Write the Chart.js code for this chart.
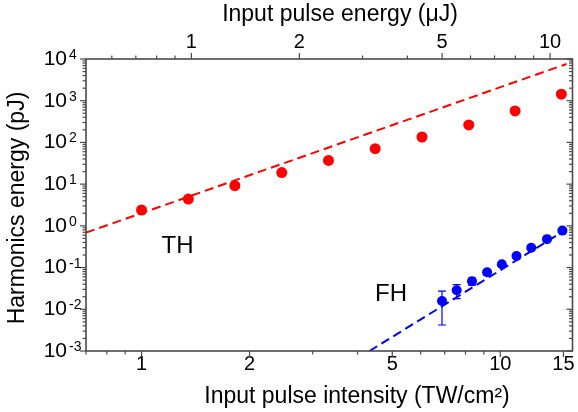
<!DOCTYPE html>
<html>
<head>
<meta charset="utf-8">
<script src="https://cdn.jsdelivr.net/npm/chart.js@4"></script>
<style>
  html, body { margin: 0; padding: 0; background: #fff; }
</style>
</head>
<body>
<canvas id="chart" width="578" height="412"></canvas>
<script>
// Values
const thIntensity = [1.00, 1.35, 1.82, 2.46, 3.32, 4.48, 6.05, 8.17, 11.0, 14.8];
const thEnergy = [2.4, 4.4, 9.2, 19, 37, 71, 135, 262, 570, 1430];
const thError = [0.5, 0, 0, 0, 0, 0, 0, 0, 0, 0];

const fhIntensity = [6.88, 7.56, 8.34, 9.19, 10.1, 11.1, 12.2, 13.5, 14.9];
const fhEnergy = [0.0158, 0.0286, 0.047, 0.077, 0.12, 0.19, 0.30, 0.48, 0.77];
const fhError = [0.0116, 0.0105, 0.009, 0.01, 0.01, 0.01, 0.01, 0.01, 0.01];

// dashed guide lines (end points)
const thFitIntensity = [0.70, 15.3];
const thFitEnergy = [0.687, 7600];
const fhFitIntensity = [4.32, 14.7];
const fhFitEnergy = [0.001, 0.665];

// axes
const intensityTicks = [1, 2, 5, 10, 15];
const intensityMinor = [0.7, 0.8, 0.9, 3, 4, 6, 7, 8, 9];
const energyTicks = [1, 2, 5, 10];
const energyMinor = [0.6, 0.7, 0.8, 0.9, 3, 4, 6, 7, 8, 9];
const decadeExponents = [-3, -2, -1, 0, 1, 2, 3, 4];
const intensityRange = [0.7, 15.9];
const intensityPerEnergy = 1.377;  // TW/cm2 per uJ

const notes = [
  { text: 'TH', x: 1.26, y: 0.33 },
  { text: 'FH', x: 4.96, y: 0.0233 }
];

const RED = '#ff0000';
const BLUE = '#0000ff';
const AXIS = '#4a4a4a';
const FONT = "'Liberation Sans', Arial, sans-serif";

Chart.defaults.font.family = FONT;
Chart.defaults.color = '#000';

const pairs = (xs, ys) => xs.map((x, i) => ({ x, y: ys[i] }));

// error bars under the markers
const errorBars = {
  id: 'errorBars',
  beforeDatasetsDraw(chart) {
    const { ctx, chartArea: a, scales: { x, y } } = chart;
    const sets = [
      [thIntensity, thEnergy, thError, RED, 3.5],
      [fhIntensity, fhEnergy, fhError, BLUE, 4]
    ];
    ctx.save();
    ctx.beginPath();
    ctx.rect(a.left, a.top, a.width, a.height);
    ctx.clip();
    ctx.lineWidth = 1.2;
    sets.forEach(([xs, ys, es, color, cap]) => {
      ctx.strokeStyle = color;
      xs.forEach((v, i) => {
        if (!es[i]) return;
        const px = x.getPixelForValue(v);
        const lo = y.getPixelForValue(Math.max(ys[i] - es[i], 1e-4));
        const hi = y.getPixelForValue(ys[i] + es[i]);
        ctx.beginPath();
        ctx.moveTo(px, lo); ctx.lineTo(px, hi);
        ctx.moveTo(px - cap, lo); ctx.lineTo(px + cap, lo);
        ctx.moveTo(px - cap, hi); ctx.lineTo(px + cap, hi);
        ctx.stroke();
      });
    });
    ctx.restore();
  }
};

// frame, tick marks, decade labels, titles and TH/FH notes
const frame = {
  id: 'frame',
  afterDraw(chart) {
    const { ctx, chartArea: a, scales: { x, xTop, y } } = chart;
    ctx.save();

    ctx.strokeStyle = AXIS;
    ctx.lineWidth = 1.6;
    ctx.strokeRect(a.left, a.top, a.width, a.height);

    ctx.lineWidth = 1.2;
    const tick = (x0, y0, x1, y1) => { ctx.beginPath(); ctx.moveTo(x0, y0); ctx.lineTo(x1, y1); ctx.stroke(); };

    intensityTicks.forEach(v => { const p = x.getPixelForValue(v); tick(p, a.bottom, p, a.bottom + 6); });
    intensityMinor.forEach(v => { const p = x.getPixelForValue(v); tick(p, a.bottom, p, a.bottom + 3.5); });
    energyTicks.forEach(v => { const p = xTop.getPixelForValue(v); tick(p, a.top, p, a.top - 6); });
    energyMinor.forEach(v => { const p = xTop.getPixelForValue(v); tick(p, a.top, p, a.top - 3.5); });

    decadeExponents.forEach(e => {
      const p = y.getPixelForValue(Math.pow(10, e));
      tick(a.left, p, a.left - 6, p);
      tick(a.right, p, a.right - 6, p);
      if (e === decadeExponents[decadeExponents.length - 1]) return;
      for (let k = 2; k <= 9; k++) {
        const q = y.getPixelForValue(k * Math.pow(10, e));
        tick(a.left, q, a.left - 3.5, q);
        tick(a.right, q, a.right - 3.5, q);
      }
    });

    // decade labels 10^n
    ctx.fillStyle = '#000';
    decadeExponents.forEach(e => {
      const p = y.getPixelForValue(Math.pow(10, e));
      ctx.font = '21px ' + FONT;
      ctx.textAlign = 'right';
      ctx.textBaseline = 'middle';
      ctx.fillText('10', a.left - 19, p);
      ctx.font = '14px ' + FONT;
      ctx.textAlign = 'left';
      ctx.textBaseline = 'alphabetic';
      ctx.fillText(String(e), a.left - 17, p);
    });

    // axis titles
    ctx.font = '23px ' + FONT;
    ctx.textAlign = 'center';
    ctx.textBaseline = 'alphabetic';
    ctx.fillText('Input pulse energy (\u03bcJ)', 340, 21);
    ctx.fillText('Input pulse intensity (TW/cm\u00b2)', 357, 403);
    ctx.save();
    ctx.translate(24, 208);
    ctx.rotate(-Math.PI / 2);
    ctx.fillText('Harmonics energy (pJ)', 0, 0);
    ctx.restore();

    ctx.font = '24px ' + FONT;
    ctx.textBaseline = 'middle';
    notes.forEach(n => {
      ctx.fillText(n.text, x.getPixelForValue(n.x), y.getPixelForValue(n.y));
    });

    ctx.restore();
  }
};

new Chart(document.getElementById('chart'), {
  type: 'scatter',
  data: {
    datasets: [{
      label: 'TH',
      data: pairs(thIntensity, thEnergy),
      backgroundColor: RED,
      borderWidth: 0,
      pointRadius: 5.5
    }, {
      label: 'FH',
      data: pairs(fhIntensity, fhEnergy),
      backgroundColor: BLUE,
      borderWidth: 0,
      pointRadius: 5
    }, {
      label: 'TH fit',
      data: pairs(thFitIntensity, thFitEnergy),
      showLine: true,
      borderColor: RED,
      borderWidth: 2,
      borderDash: [9, 5],
      pointRadius: 0
    }, {
      label: 'FH fit',
      data: pairs(fhFitIntensity, fhFitEnergy),
      showLine: true,
      borderColor: BLUE,
      borderWidth: 2,
      borderDash: [9, 5],
      pointRadius: 0
    }]
  },
  options: {
    responsive: false,
    animation: false,
    layout: { padding: { right: 4 } },
    plugins: { legend: { display: false }, tooltip: { enabled: false } },
    scales: {
      x: {
        type: 'logarithmic',
        position: 'bottom',
        min: intensityRange[0],
        max: intensityRange[1],
        grid: { display: false, drawTicks: false },
        border: { display: false },
        ticks: { font: { size: 20 }, color: '#000', padding: 1, maxRotation: 0, autoSkip: false, callback: v => String(v) },
        afterBuildTicks: s => { s.ticks = intensityTicks.map(v => ({ value: v })); },
        afterFit: s => { s.height = 61; }
      },
      xTop: {
        type: 'logarithmic',
        position: 'top',
        min: intensityRange[0] / intensityPerEnergy,
        max: intensityRange[1] / intensityPerEnergy,
        grid: { display: false, drawTicks: false },
        border: { display: false },
        ticks: { font: { size: 20 }, color: '#000', padding: 5, maxRotation: 0, autoSkip: false, callback: v => String(v) },
        afterBuildTicks: s => { s.ticks = energyTicks.map(v => ({ value: v })); },
        afterFit: s => { s.height = 59; }
      },
      y: {
        type: 'logarithmic',
        position: 'left',
        min: 1e-3,
        max: 1e4,
        grid: { display: false },
        border: { display: false },
        ticks: { display: false },
        afterFit: s => { s.width = 86; }
      }
    }
  },
  plugins: [errorBars, frame]
});
</script>
</body>
</html>
